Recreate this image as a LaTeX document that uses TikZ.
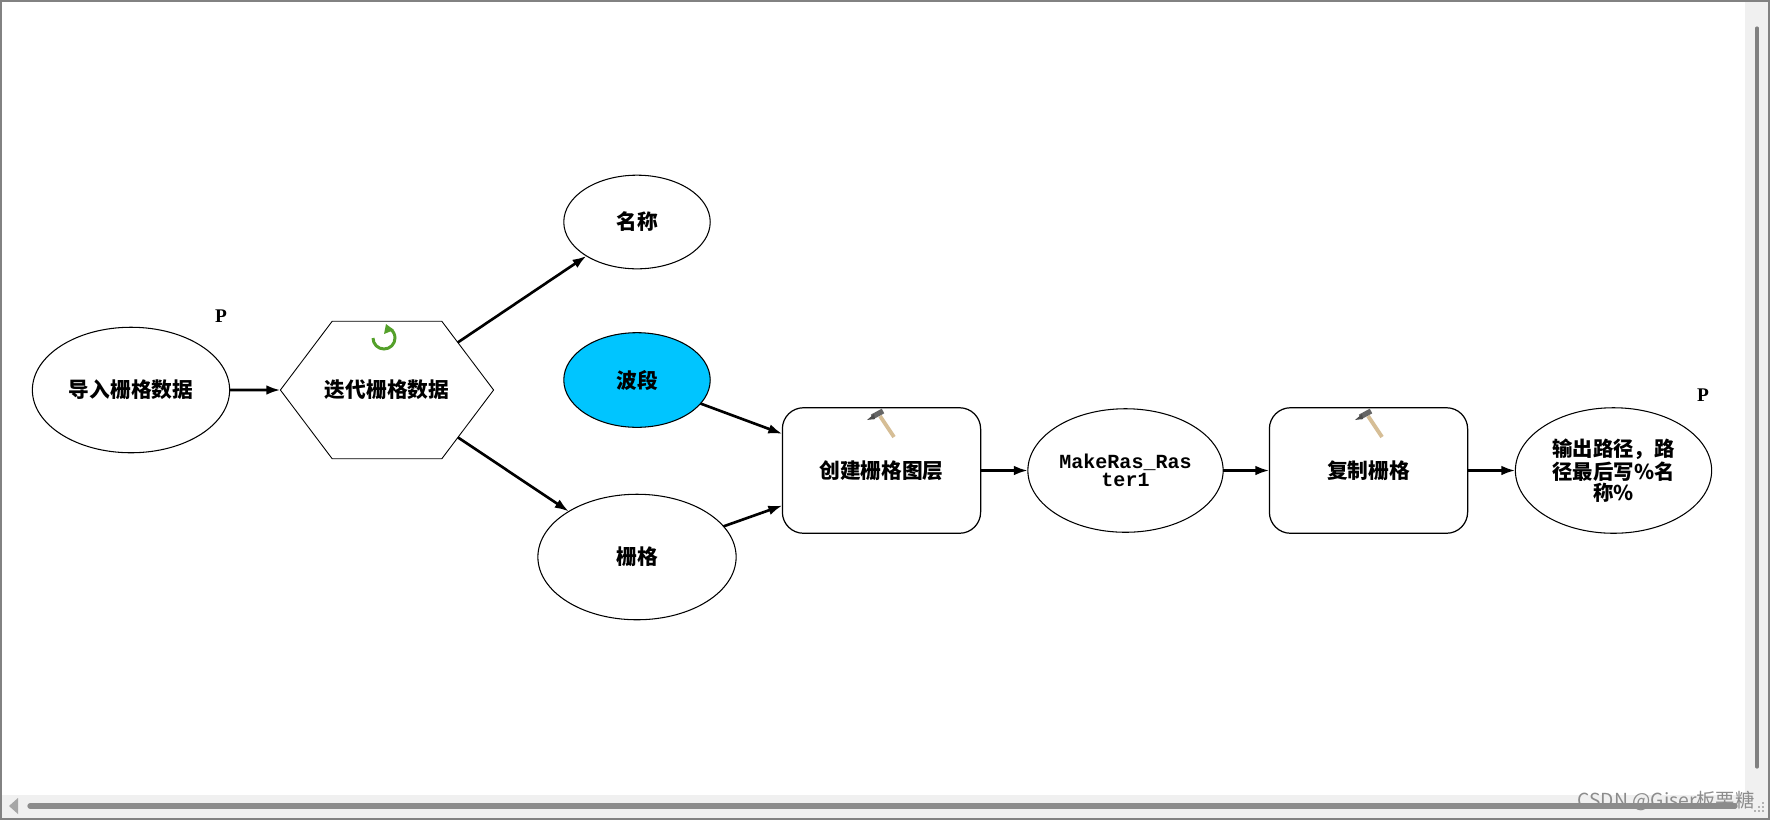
\documentclass[tikz,border=0pt]{standalone}
\usepackage{fontspec}
\usepackage{tikz}
\usetikzlibrary{shapes.geometric, shapes.symbols, arrows.meta}
\setmainfont{Liberation Mono}
\newfontfamily\cjkfont{Noto Sans CJK SC}
\newfontfamily\serifp{Liberation Serif}
\newfontfamily\markfont{Noto Sans CJK SC}
\definecolor{bandcyan}{RGB}{0,197,255}
\definecolor{loopgreen}{RGB}{84,160,42}
\definecolor{handletan}{RGB}{214,190,150}
\definecolor{panelgray}{RGB}{240,240,240}
\definecolor{edgegray}{RGB}{130,130,130}
\tikzset{
    labeltext/.style={font=\fontsize{11.8}{11}\selectfont\cjkfont\bfseries, align=center, text=black},
    dataoval/.style={ellipse, draw, line width=0.6pt, inner sep=0pt, outer sep=0pt, labeltext},
    toolbox/.style={rectangle, rounded corners=12pt, draw, line width=0.7pt, minimum width=199*0.567pt, minimum height=126*0.567pt, inner sep=0pt, outer sep=0pt, labeltext},
    flowline/.style={-{Latex[length=8pt,width=5.5pt]}, line width=1.5pt},
    hammer/.pic={
        \draw[handletan, line width=2.2pt] (-1,-8) -- (13,13);
        \draw[black!60, line width=3pt] (-9,-7) -- (2,-13);
        \fill[black!70] (-14,-4) -- (-7,-10) -- (-6,-5) -- cycle;
    }
}
\begin{document}
\begin{tikzpicture}[x=0.02cm, y=-0.02cm, >=latex]
    \useasboundingbox (0,0) rectangle (1770,819);

    % window panels
    \fill[panelgray] (1745,0) rectangle (1770,819);
    \fill[panelgray] (0,795) rectangle (1770,819);
    \draw[edgegray, line width=1.2pt] (0.5,819) -- (0.5,0.5) -- (1769.5,0.5) -- (1769.5,819) -- cycle;
    \draw[black!50, line width=1.8pt, line cap=round] (1757,28) -- (1757,767);
    \draw[black!45, line width=3pt, line cap=round] (30,806) -- (1735,806);
    \fill[black!35] (9,806) -- (18,798) -- (18,814) -- cycle;
    \foreach \gx/\gy in {1762/802, 1758/806, 1762/806, 1754/810, 1758/810, 1762/810}
        \fill[black!30] (\gx,\gy) rectangle ++(2,2);

    % model elements
    \node[dataoval, minimum width=198*0.567pt, minimum height=126*0.567pt] (inraster) at (131,390) {导入栅格数据};
    \node[signal, signal to=west and east, signal pointer angle=106, draw, line width=0.5pt, minimum height=138*0.567pt, inner sep=0pt, outer sep=0pt, labeltext] (iterate) at (387,390) {\makebox[62.4pt]{迭代栅格数据}};
    \node[dataoval, minimum width=147*0.567pt, minimum height=94*0.567pt] (mingcheng) at (637,222) {名称};
    \node[dataoval, minimum width=147*0.567pt, minimum height=95*0.567pt, fill=bandcyan] (boduan) at (637,380) {波段};
    \node[dataoval, minimum width=199*0.567pt, minimum height=126*0.567pt] (shange) at (637,557) {栅格};
    \node[toolbox] (makelayer) at (881.5,470.5) {创建栅格图层};
    \node[dataoval, minimum width=196*0.567pt, minimum height=124*0.567pt, font=\fontsize{11.4}{10.4}\selectfont\bfseries] (makeras) at (1125.5,470.5) {MakeRas\_Ras\\ter1};
    \node[toolbox] (copyraster) at (1368.5,470.5) {复制栅格};
    \node[dataoval, minimum width=197*0.567pt, minimum height=126*0.567pt, font=\fontsize{11.6}{10.8}\selectfont\cjkfont\bfseries] (outpath) at (1613.5,470.5) {输出路径，路\\径最后写\%名\\称\%};

    % P labels
    \node[font=\fontsize{11}{11}\selectfont\serifp\bfseries] (pin) at (221,316) {P};
    \node[font=\fontsize{11}{11}\selectfont\serifp\bfseries] (pout) at (1703,395) {P};

    % connectors
    \draw[flowline] (inraster) -- (iterate);
    \draw[flowline] (iterate) -- (mingcheng);
    \draw[flowline] (iterate) -- (shange);
    \draw[flowline] (boduan) -- (makelayer);
    \draw[flowline] (shange) -- (makelayer);
    \draw[flowline] (makelayer) -- (makeras);
    \draw[flowline] (makeras) -- (copyraster);
    \draw[flowline] (copyraster) -- (outpath);

    % icons
    \draw[loopgreen, line width=1.7pt] (373,338) arc[start angle=180, end angle=-55, radius=11];
    \fill[loopgreen] (386,324) -- (384,334) -- (394,330) -- cycle;
    \pic at (881,424) {hammer};
    \pic at (1369,424) {hammer};

    % watermark
    \node[font=\fontsize{11}{11}\selectfont\markfont, text=black!45] (csdn) at (1666,801) {CSDN @Giser板栗糖};
\end{tikzpicture}
\end{document}
